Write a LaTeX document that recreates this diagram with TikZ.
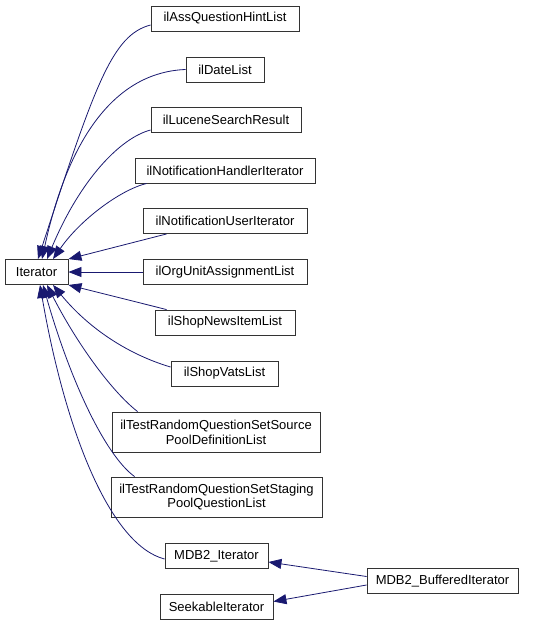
\documentclass[tikz,border=0pt]{standalone}
\usepackage{fontspec}
\setmainfont{Liberation Sans}
\usepackage{tikz}
\usetikzlibrary{arrows.meta}
\definecolor{edgeblue}{RGB}{25,25,112}
\tikzset{
  cls/.style={draw=black!80, fill=white, line width=0.9pt, inner sep=0pt,
    minimum height=25pt, align=center, font=\fontsize{13}{14.7}\selectfont},
  inh/.style={-{Triangle[length=13pt,width=10pt]}, edgeblue, line width=0.8pt}
}

\begin{document}
\begin{tikzpicture}[x=1pt,y=1pt]
  \useasboundingbox (0,0) rectangle (544,-625);
  % base class and derived classes
  \node[cls, minimum width=63pt]  (iter)    at (36.5,-272) {Iterator};
  \node[cls, minimum width=148pt] (hint)    at (225,-18.5) {ilAssQuestionHintList};
  \node[cls, minimum width=78pt]  (date)    at (225,-69.5) {ilDateList};
  \node[cls, minimum width=150pt] (lucene)  at (226,-119.5) {ilLuceneSearchResult};
  \node[cls, minimum width=180pt] (nhandle) at (225,-170.5) {ilNotificationHandlerIterator};
  \node[cls, minimum width=164pt] (nuser)   at (225,-221) {ilNotificationUserIterator};
  \node[cls, minimum width=164pt] (orgunit) at (225,-272) {ilOrgUnitAssignmentList};
  \node[cls, minimum width=140pt] (news)    at (225,-322.5) {ilShopNewsItemList};
  \node[cls, minimum width=107pt] (vats)    at (224.5,-373.5) {ilShopVatsList};
  \node[cls, minimum width=208pt, minimum height=40pt] (source) at (216,-432)
    {ilTestRandomQuestionSetSource\\PoolDefinitionList};
  \node[cls, minimum width=211pt, minimum height=40pt] (staging) at (216.5,-497)
    {ilTestRandomQuestionSetStaging\\PoolQuestionList};
  \node[cls, minimum width=103pt] (mdbit)   at (216.5,-556) {MDB2\_Iterator};
  \node[cls, minimum width=113pt] (seek)    at (216.5,-606.5) {SeekableIterator};
  \node[cls, minimum width=151pt] (buffer)  at (442.5,-581) {MDB2\_BufferedIterator};

  % inheritance edges into Iterator (top side)
  \draw[inh] ([yshift=-6.5pt]hint.west) .. controls (112,-35) and (95,-85) .. ([xshift=1.5pt]iter.north);
  \draw[inh] (date.west) .. controls (120,-72) and (70,-130) .. ([xshift=5.5pt]iter.north);
  \draw[inh] ([yshift=-10.5pt]lucene.west) .. controls (120,-138) and (80,-180) .. ([xshift=10.5pt]iter.north);
  \draw[inh] ([xshift=12pt]nhandle.south west) .. controls (120,-190) and (80,-220) .. ([xshift=16.5pt]iter.north);
  \draw[inh] ([xshift=24pt]nuser.south west) -- (iter.north east);
  % right side
  \draw[inh] (orgunit.west) -- (iter.east);
  \draw[inh] ([xshift=12pt]news.north west) -- (iter.south east);
  % bottom side
  \draw[inh] ([yshift=6.5pt]vats.west) .. controls (130,-355) and (90,-330) .. ([xshift=16.5pt]iter.south);
  \draw[inh] ([xshift=26pt]source.north west) .. controls (110,-390) and (75,-340) .. ([xshift=10.5pt]iter.south);
  \draw[inh] ([xshift=24pt]staging.north west) .. controls (105,-455) and (70,-380) .. ([xshift=6.5pt]iter.south);
  \draw[inh] ([yshift=-3pt]mdbit.west) .. controls (110,-545) and (65,-430) .. ([xshift=3.5pt]iter.south);

  % MDB2_BufferedIterator parents
  \draw[inh] ([yshift=4.5pt]buffer.west) -- ([yshift=-6pt]mdbit.east);
  \draw[inh] ([yshift=-4pt]buffer.west) -- ([yshift=5pt]seek.east);
\end{tikzpicture}
\end{document}
